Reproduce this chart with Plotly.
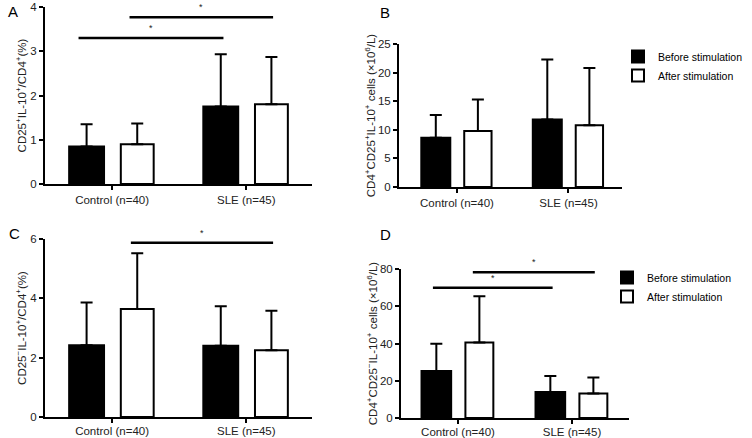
import plotly.graph_objects as go

# ---------------- data ----------------
categories = ["Control (n=40)", "SLE (n=45)"]
series_names = ["Before stimulation", "After stimulation"]

# Panel A: CD25+IL-10+/CD4+ (%)
a_before = [0.85, 1.75]
a_before_err = [0.50, 1.18]
a_after = [0.90, 1.80]
a_after_err = [0.47, 1.07]
a_ticks = [0, 1, 2, 3, 4]

# Panel B: CD4+CD25+IL-10+ cells (x10^6/L)
b_before = [8.6, 11.8]
b_before_err = [4.0, 10.5]
b_after = [9.8, 10.8]
b_after_err = [5.5, 10.0]
b_ticks = [0, 5, 10, 15, 20, 25]

# Panel C: CD25-IL-10+/CD4+ (%)
c_before = [2.42, 2.40]
c_before_err = [1.44, 1.33]
c_after = [3.64, 2.25]
c_after_err = [1.88, 1.33]
c_ticks = [0, 2, 4, 6]

# Panel D: CD4+CD25-IL-10+ cells (x10^6/L)
d_before = [25.3, 13.9]
d_before_err = [14.6, 8.7]
d_after = [40.6, 13.2]
d_after_err = [24.8, 8.5]
d_ticks = [0, 20, 40, 60, 80]

# significance brackets: (x start, x end, y level) in category units / data units
a_sig = [(-0.25, 0.83, 3.30), (0.13, 1.20, 3.77)]
b_sig = []
c_sig = [(0.14, 1.20, 5.87)]
d_sig = [(-0.22, 0.83, 69.9), (0.13, 1.20, 78.3)]

FONT = "Liberation Sans, Arial, Helvetica, sans-serif"

panels = [
    dict(key="", before=a_before, berr=a_before_err, after=a_after, aerr=a_after_err,
         ticks=a_ticks, ymax=4, sig=a_sig, legend=None, standoff=1, xstand=0,
         title="CD25<sup>+</sup>IL-10<sup>+</sup>/CD4<sup>+</sup>(%)",
         xdom=[45/752, 312/752], ydom=[1-184/438, 1-7/438], xr=[-0.5, 1.49]),
    dict(key="2", before=b_before, berr=b_before_err, after=b_after, aerr=b_after_err,
         ticks=b_ticks, ymax=25, sig=b_sig, legend="legend", standoff=0, xstand=0,
         title="CD4<sup>+</sup>CD25<sup>+</sup>IL-10<sup>+</sup> cells (×10<sup>6</sup>/L)",
         xdom=[399/752, 622/752], ydom=[1-187/438, 1-44/438], xr=[-0.52, 1.48]),
    dict(key="3", before=c_before, berr=c_before_err, after=c_after, aerr=c_after_err,
         ticks=c_ticks, ymax=6, sig=c_sig, legend=None, standoff=1, xstand=-2,
         title="CD25<sup>−</sup>IL-10<sup>+</sup>/CD4<sup>+</sup>(%)",
         xdom=[45/752, 312/752], ydom=[1-417/438, 1-239/438], xr=[-0.5, 1.49]),
    dict(key="4", before=d_before, berr=d_before_err, after=d_after, aerr=d_after_err,
         ticks=d_ticks, ymax=80, sig=d_sig, legend="legend2", standoff=0, xstand=-2,
         title="CD4<sup>+</sup>CD25<sup>−</sup>IL-10<sup>+</sup> cells (×10<sup>6</sup>/L)",
         xdom=[401/752, 629/752], ydom=[1-418/438, 1-269/438], xr=[-0.5, 1.5]),
]

fig = go.Figure()
layout = {}
shapes = []
annotations = []

for p in panels:
    k = p["key"]
    xa, ya = "x" + k, "y" + k
    for name, vals, errs, fill, off, w in [
        (series_names[0], p["before"], p["berr"], "black", -0.32, 0.26),
        (series_names[1], p["after"], p["aerr"], "white", 0.065, 0.245),
    ]:
        fig.add_trace(go.Bar(
            x=categories, y=vals, name=name,
            xaxis=xa, yaxis=ya,
            offset=off, width=w,
            marker=dict(color=fill, line=dict(color="black", width=2)),
            error_y=dict(type="data", symmetric=False, array=errs,
                         arrayminus=[0] * len(errs), color="black",
                         thickness=2, width=6),
            showlegend=p["legend"] is not None,
            legend=p["legend"] if p["legend"] else "legend",
        ))
    layout["xaxis" + k] = dict(
        domain=p["xdom"], anchor=ya, type="category", range=p["xr"],
        automargin=False, ticklabelstandoff=p["xstand"],
        showline=True, linecolor="black", linewidth=2,
        ticks="outside", ticklen=4, tickwidth=1.5, tickcolor="black",
        tickfont=dict(family=FONT, size=11.5, color="#222"),
        showgrid=False, zeroline=False, fixedrange=True,
    )
    layout["yaxis" + k] = dict(
        domain=p["ydom"], anchor=xa, range=[0, p["ymax"]],
        automargin=False,
        tickvals=p["ticks"], ticktext=[str(t) for t in p["ticks"]],
        showline=True, linecolor="black", linewidth=2,
        ticks="outside", ticklen=4, tickwidth=1.5, tickcolor="black",
        tickfont=dict(family=FONT, size=11.5, color="#222"),
        showgrid=False, zeroline=False,
        title=dict(text=p["title"], font=dict(family=FONT, size=11.5, color="#222"),
                   standoff=p["standoff"]),
    )
    for (x0, x1, yv) in p["sig"]:
        shapes.append(dict(type="line", xref=xa, yref=ya, x0=x0, x1=x1, y0=yv, y1=yv,
                           line=dict(color="black", width=2.5)))
        annotations.append(dict(xref=xa, yref=ya, x=(x0 + x1) / 2, y=yv, text="*",
                                showarrow=False, yanchor="bottom", yshift=3,
                                font=dict(family=FONT, size=9, color="#222")))

# panel letters
for letter, px, py in [("A", 6, 11), ("B", 378, 12), ("C", 7, 233), ("D", 378, 234)]:
    annotations.append(dict(xref="paper", yref="paper", x=px / 752, y=1 - py / 438,
                            text=letter, showarrow=False, xanchor="left", yanchor="middle",
                            font=dict(family=FONT, size=15, color="black")))

legend_style = dict(font=dict(family=FONT, size=10.5, color="black"),
                    bgcolor="rgba(0,0,0,0)", borderwidth=0, tracegroupgap=0,
                    xanchor="left", yanchor="top")
fig.update_layout(
    width=752, height=438,
    margin=dict(l=0, r=0, t=0, b=0, autoexpand=False),
    paper_bgcolor="white", plot_bgcolor="white",
    showlegend=True,
    legend=dict(x=618 / 752, y=1 - 42 / 438, **legend_style),
    legend2=dict(x=607 / 752, y=1 - 263 / 438, **legend_style),
    shapes=shapes, annotations=annotations,
    **layout,
)

fig.write_html("out.html", config={"displayModeBar": False},
               post_script="document.body.style.margin='0';")
